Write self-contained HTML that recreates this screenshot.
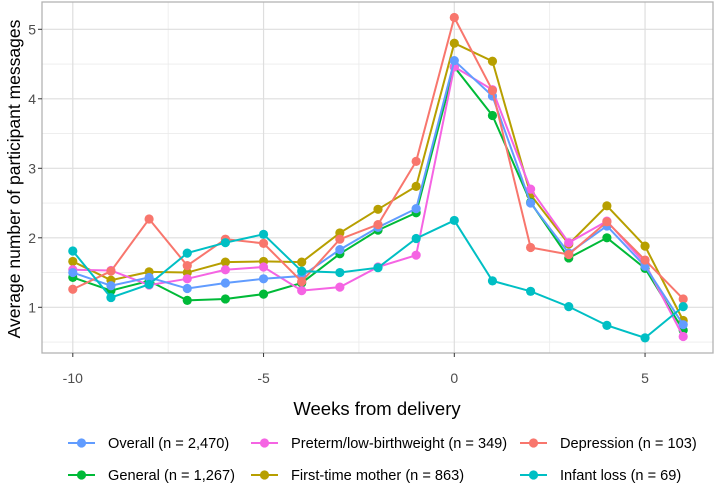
<!DOCTYPE html>
<html><head><meta charset="utf-8"><style>
body{margin:0;background:#fff;}
svg{display:block;font-family:"Liberation Sans",sans-serif;}
</style></head><body>
<svg id="chart" width="716" height="498"></svg>
<script>
const weeks=[-10,-9,-8,-7,-6,-5,-4,-3,-2,-1,0,1,2,3,4,5,6];
const overall=[1.50,1.31,1.43,1.27,1.35,1.41,1.45,1.83,2.15,2.42,4.55,4.04,2.50,1.78,2.17,1.59,0.75];
const preterm=[1.54,1.53,1.32,1.41,1.54,1.58,1.24,1.29,1.58,1.75,4.46,4.13,2.70,1.93,2.24,1.63,0.58];
const depression=[1.26,1.52,2.27,1.60,1.98,1.92,1.37,1.98,2.19,3.10,5.17,4.12,1.86,1.76,2.23,1.68,1.12];
const general=[1.43,1.24,1.38,1.10,1.12,1.19,1.35,1.77,2.11,2.36,4.46,3.76,2.51,1.71,2.00,1.56,0.67];
const firstTime=[1.66,1.39,1.51,1.50,1.65,1.66,1.65,2.07,2.41,2.74,4.80,4.54,2.62,1.91,2.46,1.88,0.81];
const infantLoss=[1.81,1.14,1.33,1.78,1.93,2.05,1.52,1.50,1.57,1.99,2.25,1.38,1.23,1.01,0.74,0.56,1.01];
const xTicks=[-10,-5,0,5];
const yTicks=[1,2,3,4,5];
const seriesNames=["Overall (n = 2,470)","Preterm/low-birthweight (n = 349)","Depression (n = 103)","General (n = 1,267)","First-time mother (n = 863)","Infant loss (n = 69)"];

const svg=document.getElementById('chart');
const NS='http://www.w3.org/2000/svg';
const X=w=>454.3+38.15*w;
const Y=v=>307.3-(v-1)*69.5;
function mk(tag,attrs,parent){const e=document.createElementNS(NS,tag);for(const k in attrs)e.setAttribute(k,attrs[k]);(parent||svg).appendChild(e);return e;}
const L=42,R=713,T=2,B=353;
const grid=mk('g',{});


[-7.5,-2.5,2.5].forEach(w=>mk('line',{x1:X(w),x2:X(w),y1:T,y2:B,stroke:'#ebebeb','stroke-width':0.8},grid));
[0.5,1.5,2.5,3.5,4.5].forEach(v=>mk('line',{x1:L,x2:R,y1:Y(v),y2:Y(v),stroke:'#ebebeb','stroke-width':0.8},grid));
xTicks.forEach(w=>mk('line',{x1:X(w),x2:X(w),y1:T,y2:B,stroke:'#dedede','stroke-width':1.2},grid));
yTicks.forEach(v=>mk('line',{x1:L,x2:R,y1:Y(v),y2:Y(v),stroke:'#dedede','stroke-width':1.2},grid));
const border=mk('rect',{x:L,y:T,width:R-L,height:B-T,fill:'none',stroke:'#b3b3b3','stroke-width':1.3});


xTicks.forEach(w=>{mk('line',{x1:X(w),x2:X(w),y1:B,y2:B+4,stroke:'#333'});
 const t=mk('text',{x:X(w),y:383,'text-anchor':'middle','font-size':14,fill:'#4d4d4d'});t.textContent=w;
 
 });
yTicks.forEach(v=>{mk('line',{x1:L-4,x2:L,y1:Y(v),y2:Y(v),stroke:'#333'});
 const t=mk('text',{x:36,y:Y(v)+5,'text-anchor':'end','font-size':14,fill:'#4d4d4d'});t.textContent=v;
 
 });
const xt=mk('text',{x:377,y:415,'text-anchor':'middle','font-size':18.5,fill:'#000'});xt.textContent='Weeks from delivery';


const yt=mk('text',{x:0,y:0,'text-anchor':'middle','font-size':17.5,fill:'#000',transform:'translate(20,179) rotate(-90)'});yt.textContent='Average number of participant messages';



const data=[overall,preterm,depression,general,firstTime,infantLoss];
const colors=['#619CFF','#F564E3','#F8766D','#00BA38','#B79F00','#00BFC4'];
const keys=['overall','preterm','depression','general','first-time-mother','infant-loss'];
const order=[4,3,1,0,2,5];
order.forEach(i=>{
 const g=mk('g',{});
 
 
 mk('polyline',{points:weeks.map((w,j)=>X(w)+','+Y(data[i][j])).join(' '),fill:'none',stroke:colors[i],'stroke-width':2},g);
 weeks.forEach((w,j)=>{const c=mk('circle',{cx:X(w),cy:Y(data[i][j]),r:4.6,fill:colors[i]},g);
  
  });
});
const lx=[68,251,520],ly=[443,475];
seriesNames.forEach((n,i)=>{
 const g=mk('g',{});
 
 
 const x=lx[i%3],y=ly[Math.floor(i/3)];
 mk('line',{x1:x,x2:x+27,y1:y,y2:y,stroke:colors[i],'stroke-width':2},g);
 mk('circle',{cx:x+13.5,cy:y,r:4.6,fill:colors[i]},g);
 const t=mk('text',{x:x+40,y:y+5,'font-size':14.6,fill:'#000'},g);t.textContent=n;
});
</script>
</body></html>
